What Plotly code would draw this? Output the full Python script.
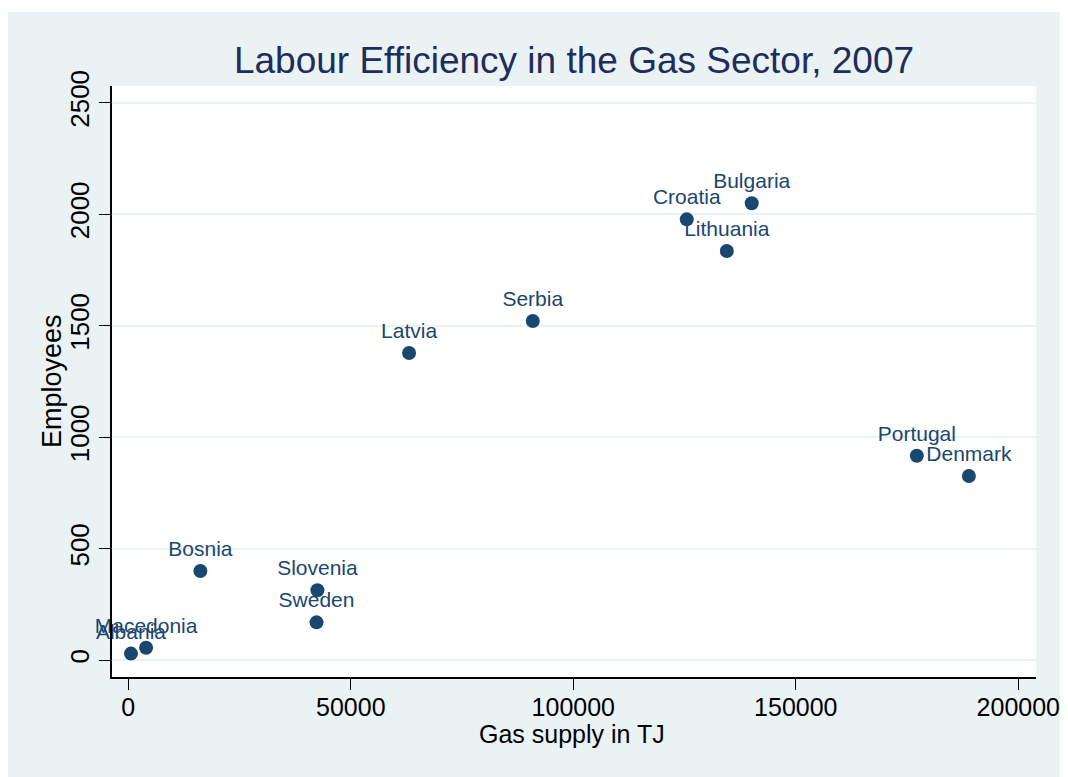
import plotly.graph_objects as go

# values
countries = ["Albania", "Macedonia", "Bosnia", "Slovenia", "Sweden", "Latvia",
             "Serbia", "Croatia", "Bulgaria", "Lithuania", "Portugal", "Denmark"]
gas_supply_tj = [600, 4000, 16200, 42500, 42300, 63100,
                 90900, 125500, 140100, 134500, 177200, 188900]
employees = [30, 56, 400, 314, 170, 1378,
             1521, 1977, 2049, 1835, 917, 826]

x_ticks = [0, 50000, 100000, 150000, 200000]
y_ticks = [0, 500, 1000, 1500, 2000, 2500]

FONT = "Liberation Sans, Arial, sans-serif"
NAVY = "#1a476f"
OUTER_BG = "#eaf2f3"

fig = go.Figure()
fig.add_trace(go.Scatter(
    x=gas_supply_tj,
    y=employees,
    mode="markers+text",
    text=countries,
    textposition="top center",
    textfont=dict(family=FONT, size=21, color=NAVY),
    marker=dict(color=NAVY, size=14, line=dict(width=0)),
    showlegend=False,
    cliponaxis=False,
))

# page puts the figure 8px in from the corner, so target pixels are shifted by 8;
# the visible width of the page is 1068 - 2*8
OFF = 8
W, H = 1068 - 2 * OFF, 777 - OFF
L, R, T, B = 112 - OFF, 1036 - OFF, 86 - OFF, 677 - OFF
pw, ph = R - L, B - T


def px_x(v):
    return (v - OFF - L) / pw


def px_y(v):
    return (B - (v - OFF)) / ph


# light outer graph region, plot area white
fig.add_shape(type="rect", xref="paper", yref="paper", layer="below",
              x0=px_x(OFF), x1=px_x(1063), y0=px_y(790), y1=px_y(12),
              fillcolor=OUTER_BG, line=dict(width=0))
fig.add_shape(type="rect", xref="paper", yref="paper", layer="below",
              x0=0, x1=1, y0=0, y1=1,
              fillcolor="white", line=dict(width=0))

# axis titles placed as annotations for exact positioning
fig.add_annotation(text="Gas supply in TJ", xref="paper", yref="paper",
                   x=px_x(572), y=px_y(734), xanchor="center", yanchor="middle",
                   showarrow=False, font=dict(family=FONT, size=25, color="black"))
fig.add_annotation(text="Employees", xref="paper", yref="paper", textangle=-90,
                   x=px_x(52), y=px_y(381), xanchor="center", yanchor="middle",
                   showarrow=False, font=dict(family=FONT, size=27, color="black"))

fig.update_layout(
    width=W,
    height=H,
    margin=dict(l=L, r=W - R, t=T, b=H - B, autoexpand=False),
    paper_bgcolor="white",
    plot_bgcolor="white",
    font=dict(family=FONT, color="black"),
    title=dict(
        text="Labour Efficiency in the Gas Sector, 2007",
        font=dict(family=FONT, size=37, color="#1e2d5b"),
        x=(L + R) / 2 / W, xanchor="center",
        y=1 - (60 - OFF) / H, yanchor="middle",
        xref="container", yref="container",
    ),
    xaxis=dict(
        range=[-3660, 203980],
        tickvals=x_ticks,
        ticktext=[str(v) for v in x_ticks],
        ticklabeloverflow="allow",
        ticklabelstandoff=-4,
        automargin=False,
        showgrid=False,
        zeroline=False,
        showline=True,
        linecolor="black",
        linewidth=1.5,
        ticks="outside",
        ticklen=11,
        tickwidth=1.2,
        tickcolor="black",
        tickfont=dict(size=25, color="black"),
    ),
    yaxis=dict(
        range=[-75, 2575],
        tickvals=y_ticks,
        ticktext=[str(v) for v in y_ticks],
        tickangle=-90,
        automargin=False,
        showgrid=True,
        gridcolor=OUTER_BG,
        gridwidth=2,
        zeroline=False,
        showline=True,
        linecolor="black",
        linewidth=1.5,
        ticks="outside",
        ticklen=11,
        tickwidth=1.2,
        tickcolor="black",
        tickfont=dict(size=26, color="black"),
    ),
)

fig.write_html("out.html")
